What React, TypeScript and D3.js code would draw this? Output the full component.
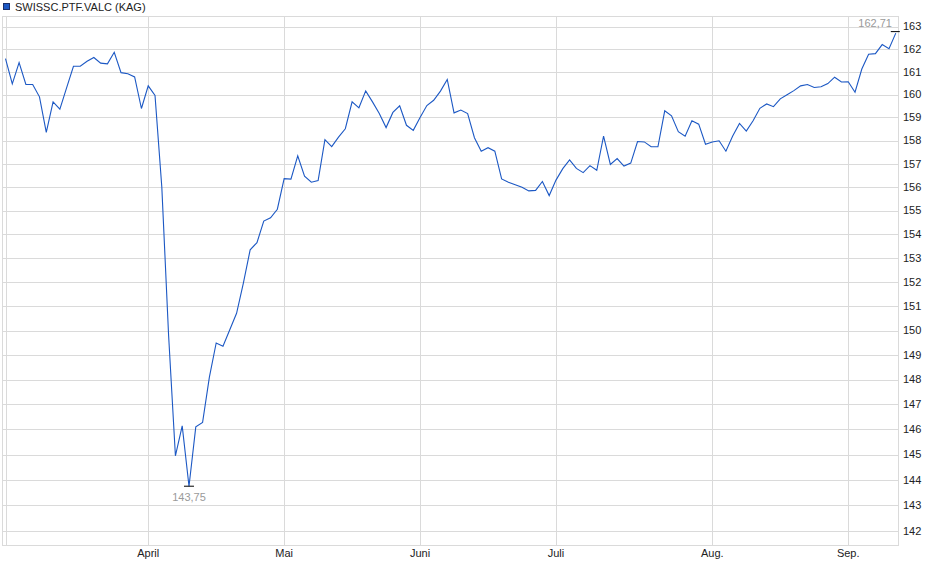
import React from "react";
import * as d3 from "d3";

const seriesName = "SWISSC.PTF.VALC (KAG)";

// daily values (trading days, March 3 .. Sep 10)
const values: number[] = [
  161.58, 160.47, 161.4, 160.44, 160.44, 159.9, 158.35, 159.68, 159.36, 160.3,
  161.24, 161.24, 161.46, 161.63, 161.38, 161.35, 161.86, 160.96, 160.91, 160.77,
  159.39, 160.38, 159.96, 156.0, 149.8, 144.95, 146.14, 143.75, 146.1, 146.28,
  148.1, 149.49, 149.36, 150.03, 150.71, 151.96, 153.35, 153.65, 154.56, 154.7,
  155.06, 156.36, 156.34, 157.34, 156.47, 156.21, 156.28, 158.04, 157.74, 158.15,
  158.51, 159.68, 159.42, 160.16, 159.68, 159.17, 158.56, 159.22, 159.51, 158.66,
  158.44, 159.0, 159.52, 159.75, 160.15, 160.66, 159.2, 159.32, 159.17, 158.12,
  157.54, 157.69, 157.54, 156.35, 156.21, 156.1, 155.99, 155.84, 155.86, 156.24,
  155.64, 156.3, 156.79, 157.17, 156.8, 156.62, 156.92, 156.72, 158.19, 156.97,
  157.22, 156.9, 157.03, 157.96, 157.94, 157.73, 157.73, 159.29, 159.07, 158.38,
  158.19, 158.86, 158.71, 157.84, 157.94, 157.99, 157.54, 158.2, 158.74, 158.41,
  158.86, 159.4, 159.59, 159.47, 159.81, 159.99, 160.17, 160.38, 160.44, 160.31,
  160.34, 160.48, 160.76, 160.55, 160.56, 160.1, 161.12, 161.77, 161.8, 162.2,
  162.02, 162.71,
];

// month starts (index into values) and labels
const monthStartIdx: number[] = [0, 21, 41, 61, 81, 104, 124];
const monthLabels: string[] = ["", "April", "Mai", "Juni", "Juli", "Aug.", "Sep."];

const yTicks: number[] = d3.range(142, 164);

const W = 940;
const H = 579;
const plotLeft = 3;
const plotRight = 898;
const plotTop = 16;
const plotBottom = 545;

const lineColor = "#1c58c4";
const gridColor = "#dadada";
const textColor = "#222";
const font = "'Liberation Sans', Arial, sans-serif";

const fmt = (v: number) => v.toFixed(2).replace(".", ",");

export default function App() {
  const x = d3.scaleLinear().domain([0, values.length - 1]).range([5.5, 895.8]);
  const y = d3.scaleLog().domain([142, 163]).range([531, 26.6]);

  const line = d3
    .line<number>()
    .x((_, i) => x(i))
    .y((d) => y(d));

  const minV = d3.min(values)!;
  const maxV = d3.max(values)!;
  const minI = values.indexOf(minV);
  const maxI = values.lastIndexOf(maxV);

  return (
    <svg
      width={W}
      height={H}
      style={{ position: "absolute", left: 0, top: 0, background: "#fff" }}
      fontFamily={font}
    >
      {/* legend */}
      <rect x={3.5} y={3.5} width={6} height={6} fill={lineColor} stroke="#1a2f6a" strokeWidth={1} />
      <text x={15} y={10.5} fontSize={11} fill={textColor}>
        {seriesName}
      </text>

      {/* horizontal grid */}
      {yTicks.map((t) => (
        <line
          key={"h" + t}
          x1={plotLeft}
          x2={plotRight}
          y1={Math.round(y(t)) + 0.5}
          y2={Math.round(y(t)) + 0.5}
          stroke={gridColor}
        />
      ))}
      {/* vertical grid */}
      {monthStartIdx.map((m) => (
        <line
          key={"v" + m}
          x1={Math.round(x(m)) + 0.5}
          x2={Math.round(x(m)) + 0.5}
          y1={plotTop}
          y2={plotBottom}
          stroke={gridColor}
        />
      ))}
      {/* frame */}
      <rect
        x={plotLeft - 0.5}
        y={plotTop + 0.5}
        width={plotRight - plotLeft + 1}
        height={plotBottom - plotTop}
        fill="none"
        stroke={gridColor}
      />

      {/* y labels */}
      {yTicks.map((t) => (
        <text
          key={"yl" + t}
          x={903}
          y={y(t)}
          dy="0.35em"
          fontSize={11}
          fill={textColor}
        >
          {t}
        </text>
      ))}
      {/* x labels */}
      {monthStartIdx.map((m, i) =>
        monthLabels[i] ? (
          <text
            key={"xl" + m}
            x={x(m)}
            y={557}
            textAnchor="middle"
            fontSize={11}
            fill={textColor}
          >
            {monthLabels[i]}
          </text>
        ) : null
      )}

      {/* series */}
      <path d={line(values) || ""} fill="none" stroke={lineColor} strokeWidth={1.1} />

      {/* min marker */}
      <line x1={x(minI) - 5} x2={x(minI) + 5} y1={y(minV)} y2={y(minV)} stroke="#000" />
      <text x={x(minI)} y={501} textAnchor="middle" fontSize={11} fill="#9a9a9a">
        {fmt(minV)}
      </text>
      {/* max marker */}
      <line x1={x(maxI) - 5} x2={x(maxI) + 4} y1={y(maxV) - 1.5} y2={y(maxV) - 1.5} stroke="#000" />
      <text x={892} y={27} textAnchor="end" fontSize={11} fill="#9a9a9a">
        {fmt(maxV)}
      </text>
    </svg>
  );
}
